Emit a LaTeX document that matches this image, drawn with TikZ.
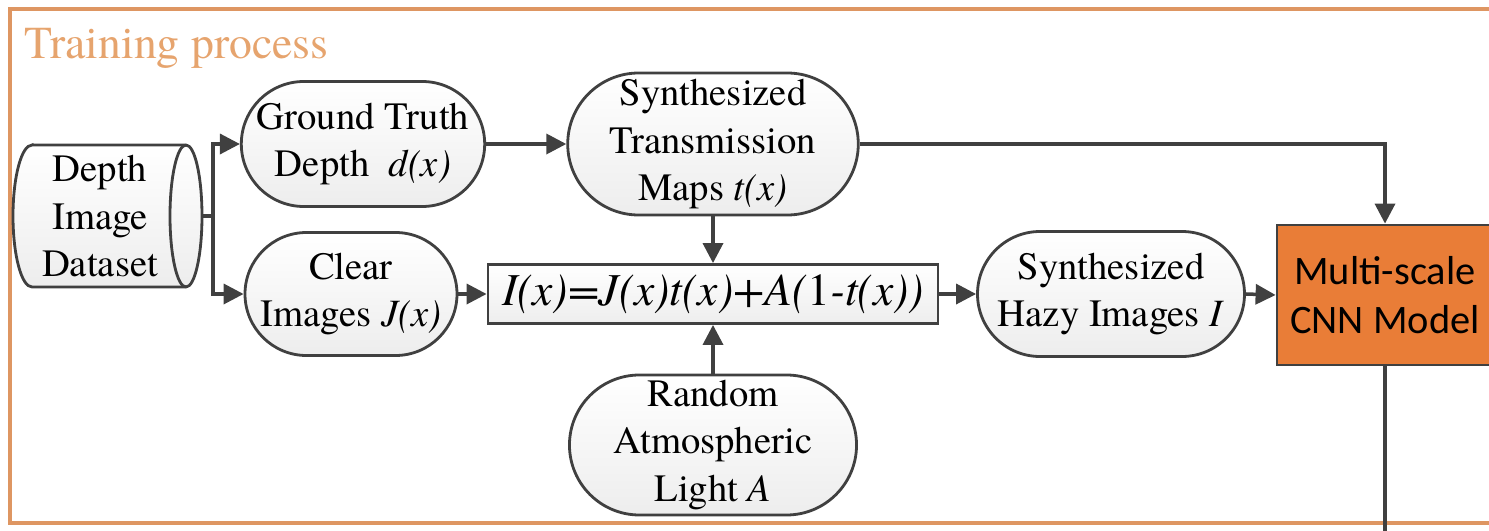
\documentclass[tikz,border=0pt]{standalone}
\usepackage{fontspec}
\newfontfamily\tmsfont{TeX Gyre Termes}
\newfontfamily\cnnfont{Carlito}
\usetikzlibrary{shapes.misc, positioning, arrows.meta, calc}
\definecolor{framecol}{RGB}{222,150,98}
\definecolor{titlecol}{RGB}{230,164,110}
\definecolor{linecol}{RGB}{64,64,64}
\definecolor{cnnfill}{RGB}{233,125,55}
\tikzset{
  stage/.style={rounded rectangle, draw=linecol, line width=0.8pt, top color=white, bottom color=gray!14, align=center, inner sep=0pt, font=\tmsfont\fontsize{11}{13.5}\selectfont},
  formula/.style={rectangle, draw=linecol, line width=0.8pt, top color=white, bottom color=gray!14, inner sep=0pt, font=\tmsfont\fontsize{13}{15}\selectfont},
  model/.style={rectangle, draw=linecol, line width=0.8pt, fill=cnnfill, align=center, font=\cnnfont\fontsize{11.5}{13.8}\selectfont},
  arrow/.style={draw=linecol, line width=1pt, -{Triangle[length=2mm, width=2mm]}},
  link/.style={draw=linecol, line width=1pt}
}

\begin{document}
\begin{tikzpicture}
    \useasboundingbox (0,0) rectangle (14.89,-5.31);
    \clip (0,0) rectangle (14.89,-5.31);

    % Frame and title
    \draw[framecol, line width=1.2pt] (0.10,-0.09) rectangle (15.3,-5.23);
    \node[anchor=base west, text=titlecol, font=\tmsfont\fontsize{13}{15}\selectfont, inner sep=0pt] (title) at (0.24,-0.58) {Training process};

    % Dataset drum
    \draw[linecol, line width=0.8pt, top color=white, bottom color=gray!14]
        (0.32,-1.45) -- (1.86,-1.45) arc[start angle=90, end angle=-90, x radius=0.16, y radius=0.71]
        -- (0.32,-2.87) arc[start angle=270, end angle=90, x radius=0.19, y radius=0.71] -- cycle;
    \draw[linecol, line width=0.8pt] (1.86,-1.45) arc[start angle=90, end angle=270, x radius=0.16, y radius=0.71];

    % Nodes
    \node[align=center, inner sep=0pt, minimum width=2.04cm, minimum height=1.42cm, font=\tmsfont\fontsize{11}{13.5}\selectfont] (data) at (1.0,-2.16) {Depth\\Image\\Dataset};
    \node[stage, minimum width=2.37cm, minimum height=1.25cm] (truth) at (3.63,-1.44) {Ground Truth\\Depth\ \ \textit{d(x)}};
    \node[stage, minimum width=1.98cm, minimum height=1.23cm] (clear) at (3.51,-2.94) {Clear\\Images \textit{J(x)}};
    \node[stage, minimum width=2.67cm, minimum height=1.42cm] (trans) at (7.13,-1.44) {Synthesized\\Transmission\\Maps \textit{t(x)}};
    \node[formula, minimum width=4.50cm, minimum height=0.59cm] (eq) at (7.13,-2.94) {\textit{I(x)=J(x)t(x)+A(}1\textit{-t(x))}};
    \node[stage, minimum width=2.85cm, minimum height=1.40cm] (light) at (7.13,-4.45) {Random\\Atmospheric\\Light \textit{A}};
    \node[stage, minimum width=2.67cm, minimum height=1.25cm] (hazy) at (11.11,-2.94) {Synthesized\\Hazy Images \textit{I}};
    \node[model, minimum width=2.16cm, minimum height=1.40cm] (cnn) at (13.85,-2.95) {Multi-scale\\CNN Model};

    % Connections
    \coordinate (split) at (2.13,-2.16);
    \coordinate (out) at (13.85,-5.40);
    \draw[link] (data.east) -- (split);
    \draw[arrow] (split) |- (truth.west);
    \draw[arrow] (split) |- (clear.west);
    \draw[arrow] (truth.east) -- (trans.west);
    \draw[arrow] (trans.south) -- (eq.north);
    \draw[arrow] (clear.east) -- (eq.west);
    \draw[arrow] (light.north) -- (eq.south);
    \draw[arrow] (eq.east) -- (hazy.west);
    \draw[arrow] (hazy.east) -- (cnn.west);
    \draw[arrow] (trans.east) -| (cnn.north);
    \draw[link] (cnn.south) -- (out);
\end{tikzpicture}
\end{document}
